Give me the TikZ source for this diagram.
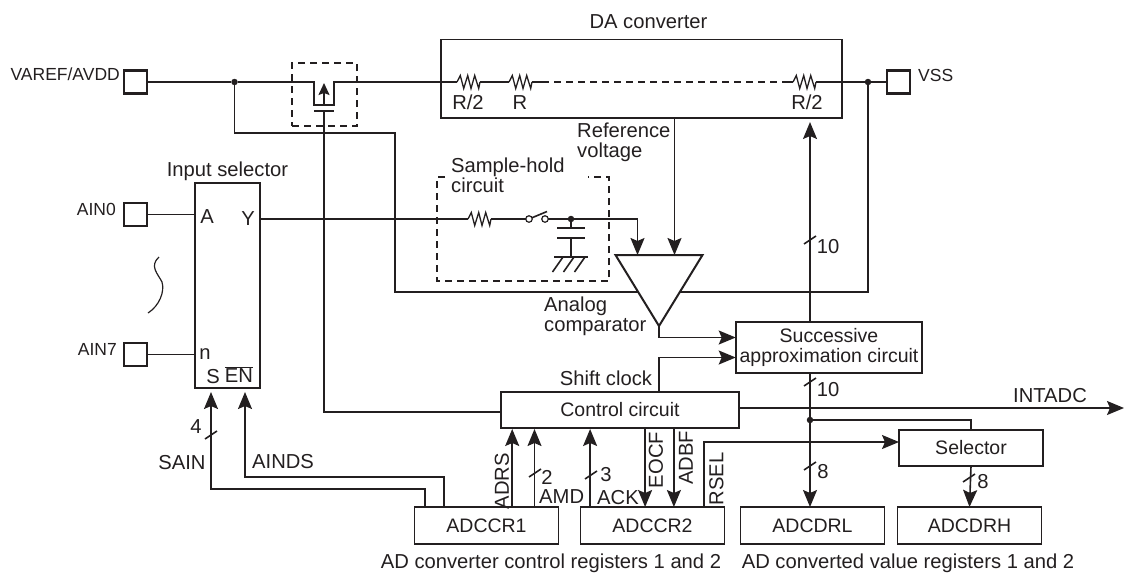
\documentclass[tikz,border=0pt]{standalone}
\usepackage{fontspec}
\setmainfont{Liberation Sans}
\usepackage{tikz}
\usetikzlibrary{arrows.meta, positioning, calc, shapes.geometric}
\definecolor{ink}{RGB}{35,31,32}
\tikzset{
  txt/.style={font=\fontsize{20.2}{20}\selectfont, text=ink, inner sep=0pt, align=left},
  pintxt/.style={font=\fontsize{17.5}{20}\selectfont, text=ink, inner sep=0pt},
  block/.style={draw=ink, line width=1.7pt, inner sep=0pt, outer sep=0pt, fill=white,
                font=\fontsize{19.5}{20.5}\selectfont, text=ink, align=center},
  regbox/.style={block, minimum width=144pt, minimum height=37pt},
  pad/.style={draw=ink, line width=2.3pt, minimum size=23pt, inner sep=0pt, outer sep=0pt},
  wire/.style={draw=ink, line width=1.6pt},
  sigarrow/.style={wire, -{Stealth[length=17pt, width=14pt, inset=3pt]}},
  dashwire/.style={wire, dashed, dash pattern=on 7pt off 5pt},
  jdot/.style={circle, fill=ink, inner sep=0pt, minimum size=6.5pt, outer sep=0pt},
  swdot/.style={circle, draw=ink, line width=1.2pt, fill=white, inner sep=0pt, minimum size=6.5pt, outer sep=0pt},
  resistor/.pic={
    \coordinate (-in) at (0,0);
    \coordinate (-out) at (23,0);
    \draw[wire, line width=1.3pt] (-in) -- (3.3,-6.5) -- (6.7,6.5) -- (10.7,-6.5) -- (14,6.5)
      -- (17.7,-6.5) -- (21.7,6.5) -- (-out);
  },
}

\begin{document}
\begin{tikzpicture}[x=1pt, y=-1pt]
  \useasboundingbox (0,0) rectangle (1124,574);

  % --- Pins ---
  \node[pad] (varef) at (135.5,82) {};
  \node[pad] (ain0) at (135.5,214.5) {};
  \node[pad] (ain7) at (135.5,354.5) {};
  \node[pad] (vss) at (898.5,82) {};
  \node[pintxt, left=4pt of varef, yshift=8pt] (varefname) {VAREF/AVDD};
  \node[pintxt, left=8pt of ain0, yshift=5pt] (ain0name) {AIN0};
  \node[pintxt, left=7pt of ain7, yshift=5pt] (ain7name) {AIN7};
  \node[pintxt, right=8pt of vss, yshift=7pt] (vssname) {VSS};

  % --- Blocks ---
  \node[block, minimum width=401pt, minimum height=78.5pt] (da) at (641.5,78.75) {};
  \node[txt, above=11pt of da, xshift=7pt] (daname) {DA converter};
  \node[block, minimum width=65pt, minimum height=205pt] (insel) at (227.5,285.5) {};
  \node[txt, above=2pt of insel] (inselname) {Input selector};
  \node[block, minimum width=186.6pt, minimum height=51pt] (succ) at (829,347.5)
    {Successive\\approximation circuit};
  \node[block, minimum width=238pt, minimum height=36pt] (ctrl) at (620,410) {Control circuit};
  \node[block, line width=2.3pt, minimum width=144pt, minimum height=36pt] (selector) at (971,448) {Selector};

  % --- Registers ---
  \node[regbox] (adccr1) at (486.5,525.5) {ADCCR1};
  \node[regbox, right=22pt of adccr1] (adccr2) {ADCCR2};
  \node[regbox, right=16pt of adccr2] (adcdrl) {ADCDRL};
  \node[regbox, right=13pt of adcdrl] (adcdrh) {ADCDRH};
  \node[txt] (ctlregs) at (551,563) {AD converter control registers 1 and 2};
  \node[txt] (valregs) at (908,563) {AD converted value registers 1 and 2};

  % --- Selector pins ---
  \node[txt] (pina) at (207,217) {A};
  \node[txt] (piny) at (248,219) {Y};
  \node[txt] (pinn) at (205,354) {n};
  \node[txt] (pins) at (213,377) {S};
  \node[txt] (pinen) at (239,375) {\(\overline{\mbox{EN}}\)};
  \draw[draw=ink, line width=1.2pt] (159,257) .. controls (149,266) and (158,274) .. (162,282)
    .. controls (165,292) and (159,306) .. (148,313);

  % --- Resistor ladder ---
  \pic (r1) at (457,82) {resistor};
  \pic (r2) at (509,82) {resistor};
  \pic (r3) at (793,82) {resistor};
  \pic (r4) at (468,219) {resistor};
  \node[txt, below=13pt of r1-in, xshift=11pt] (r1name) {R/2};
  \node[txt, below=13pt of r2-in, xshift=11pt] (r2name) {R};
  \node[txt, below=13pt of r3-in, xshift=14pt] (r3name) {R/2};

  % --- Transistor ---
  \node[draw=ink, dashwire, minimum width=65pt, minimum height=63pt, inner sep=0pt] (fet) at (324.5,94.5) {};
  \coordinate (fetin) at (314,82);
  \coordinate (fetout) at (334,82);
  \coordinate (gate) at (324,111);
  \node[jdot] (vrefdot) at (234.5,82) {};
  \node[jdot] (vssdot) at (868,82) {};
  \draw[wire] (varef.east) -- (vrefdot) -- (fetin) -- ++(0,23) -| (fetout) -- (r1-in);
  \draw[wire] (r1-out) -- (r2-in);
  \draw[wire] (r2-out) -- ++(10,0);
  \draw[dashwire] ($(r2-out)+(10,0)$) -- ($(r3-in)+(-6,0)$);
  \draw[wire] ($(r3-in)+(-6,0)$) -- (r3-in);
  \draw[wire] (r3-out) -- (vssdot) -- (vss.west);
  \draw[wire, -{Stealth[length=12pt, width=11pt, inset=2pt]}] (324,105) -- (324,83);
  \draw[wire, line width=2.4pt] (314,111) -- (334,111);
  \draw[wire] (gate) |- ($(ctrl.west)+(0,2)$);
  \draw[wire] (ain0.east) -- (ain0 -| insel.west);
  \draw[wire] (ain7.east) -- (ain7 -| insel.west);

  % --- Sample-hold ---
  \node[minimum width=172pt, minimum height=104pt, inner sep=0pt, outer sep=0pt] (shbox) at (523,229) {};
  \draw[dashwire] ($(shbox.north west)+(8,0)$) -- (shbox.north west) -- (shbox.south west)
    -- (shbox.south east) -- (shbox.north east) -- ($(shbox.north east)+(-21,0)$);
  \node[txt, anchor=west] (shname) at (451,175) {Sample-hold\\circuit};
  \node[swdot] (swa) at (529,219) {};
  \node[swdot] (swb) at (545,219) {};
  \node[jdot] (capdot) at (571,219) {};
  \coordinate (captop) at (571,228);
  \coordinate (capbot) at (571,238);
  \coordinate (gnd) at (571,257);
  \draw[wire] (swa) -- (547,211.5);
  \draw[wire] (r4-out) -- (swa);
  \draw[wire] (swb) -- (capdot) -- (captop);
  \draw[wire, line width=2.2pt] (557,228) -- (585,228);
  \draw[wire, line width=2.2pt] (557,238) -- (585,238);
  \draw[wire] (capbot) -- (gnd);
  \draw[wire] (554,257) -- (588,257);
  \foreach \x in {563,574,585}
    \draw[wire] (\x,257) -- ++(-10.5,15);

  % --- Comparator ---
  \coordinate (rail) at (395,292);
  \draw[wire] (vrefdot) -- ++(0,51) -| (rail) -- (vssdot |- rail) -- (vssdot);
  \node[isosceles triangle, shape border rotate=270, isosceles triangle stretches,
        minimum width=87pt, minimum height=71pt, draw=ink, line width=2pt, fill=white,
        inner sep=0pt, outer sep=0pt, anchor=apex] (cmp) at (659,326) {};
  \node[txt, anchor=west] (cmpname) at (544,316) {Analog\\comparator};
  \node[txt, anchor=west] (refname) at (577,142) {Reference\\voltage};
  \coordinate (vin) at (637.5,0);
  \coordinate (vref) at (674.5,0);
  \draw[wire] (insel.east |- r4-in) -- (r4-in);
  \draw[sigarrow] (capdot) -| (vin |- cmp.north);
  \draw[sigarrow] (da.south -| vref) -- (vref |- cmp.north);

  % --- Successive approximation ---
  \coordinate (bus) at (810,420);
  \node[jdot] (busdot) at (bus) {};
  \draw[sigarrow, shorten >=4pt] (succ.north -| bus) -- (da.south -| bus);
  \draw[sigarrow] (succ.south -| bus) -- (adcdrl.north -| bus);
  \draw[sigarrow] (cmp.apex) |- ($(succ.west)+(0,-10)$);
  \draw[sigarrow] (ctrl.north -| cmp.apex) |- ($(succ.west)+(0,10)$);
  \node[txt] (shiftname) at (606,378) {Shift clock};
  \coordinate (intout) at (1124,408);
  \draw[sigarrow] (ctrl.east |- intout) -- (intout);
  \node[txt] (intname) at (1050,396) {INTADC};
  \draw[wire] (busdot) -| (selector.north);
  \draw[sigarrow] (selector.south) -- (adcdrh.north);

  % --- Register signals ---
  \coordinate (trks) at ($(adccr1.north west)+(10.7,0)$);
  \coordinate (trken) at ($(adccr1.north west)+(29.7,0)$);
  \coordinate (adrs) at ($(adccr1.north west)+(97.7,0)$);
  \coordinate (amd) at ($(adccr1.north west)+(120,0)$);
  \coordinate (ack) at ($(adccr2.north west)+(9.6,0)$);
  \coordinate (eocf) at ($(adccr2.north west)+(64.6,0)$);
  \coordinate (adbf) at ($(adccr2.north west)+(93.4,0)$);
  \coordinate (rsel) at ($(adccr2.north west)+(123.6,0)$);
  \coordinate (ens) at (245,0);
  \coordinate (sel) at (211,0);
  \draw[sigarrow, shorten >=4pt] (trks) -- ++(0,-18) -| (sel |- insel.south);
  \draw[sigarrow, shorten >=4pt] (trken) -- ++(0,-30) -| (ens |- insel.south);
  \draw[sigarrow, shorten >=1pt] (adrs) -- (adrs |- ctrl.south);
  \draw[sigarrow, shorten >=1pt] (amd) -- (amd |- ctrl.south);
  \draw[sigarrow, shorten >=1pt] (ack) -- (ack |- ctrl.south);
  \draw[sigarrow] (ctrl.south -| eocf) -- (eocf);
  \draw[sigarrow] (ctrl.south -| adbf) -- (adbf);
  \draw[sigarrow] (rsel) |- ($(selector.west)+(0,-6)$);
  \node[txt] (sainname) at (182,463) {SAIN};
  \node[txt, anchor=west] (aindsname) at (252,462) {AINDS};
  \node[txt, rotate=90] (adrsname) at (502,481) {ADRS};
  \node[txt, anchor=west] (amdname) at (539,497) {AMD};
  \node[txt, anchor=west] (ackname) at (597,498) {ACK};
  \node[txt, rotate=90] (eocfname) at (656,460) {EOCF};
  \node[txt, rotate=90] (adbfname) at (686,458) {ADBF};
  \node[txt, rotate=90] (rselname) at (716.5,479) {RSEL};

  % --- Bus widths ---
  \foreach \pos in {(211,435),(535,473),(591,475),(810,240),(810,382),(810,466),(969,478)}
    \draw[wire] \pos ++(-6,4) -- ++(12,-8);
  \node[txt] (w4) at (196,427) {4};
  \node[txt] (w2) at (547,477) {2};
  \node[txt] (w3) at (606,475) {3};
  \node[txt] (w10a) at (828,247) {10};
  \node[txt] (w10b) at (828,390) {10};
  \node[txt] (w8a) at (823,472) {8};
  \node[txt] (w8b) at (983,482) {8};

\end{tikzpicture}
\end{document}
